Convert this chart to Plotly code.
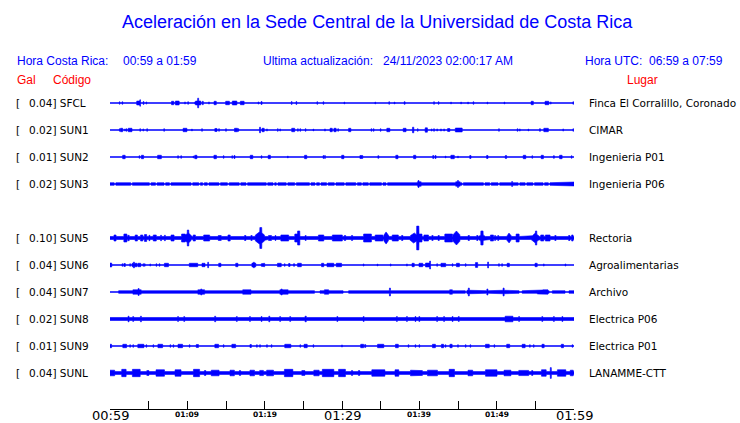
import numpy as np
import plotly.graph_objects as go

# ---------------- data ----------------
title_text = "Aceleración en la Sede Central de la Universidad de Costa Rica"
hora_cr = ["Hora Costa Rica:", "00:59 a 01:59"]
ultima = ["Ultima actualización:", "24/11/2023 02:00:17 AM"]
hora_utc = ["Hora UTC:", "06:59 a 07:59"]

codes = ["SFCL", "SUN1", "SUN2", "SUN3", "SUN5", "SUN6", "SUN7", "SUN8", "SUN9", "SUNL"]
peaks = ["0.04", "0.02", "0.01", "0.02", "0.10", "0.04", "0.04", "0.02", "0.01", "0.04"]
places = ["Finca El Corralillo, Coronado", "CIMAR", "Ingenieria P01", "Ingenieria P06",
          "Rectoria", "Agroalimentarias", "Archivo", "Electrica P06", "Electrica P01", "LANAMME-CTT"]
row_index = [0, 1, 2, 3, 5, 6, 7, 8, 9, 10]

tick_minutes = [0, 5, 10, 15, 20, 25, 30, 35, 40, 45, 50, 55, 60]
major_labels = {0: "00:59", 30: "01:29", 60: "01:59"}
minor_labels = {10: "01:09", 20: "01:19", 40: "01:39", 50: "01:49"}

# background noise half-amplitude (gal) per station
base_noise = [0.0, 0.0, 0.0, 0.012, 0.014, 0.0, 0.012, 0.014, 0.0, 0.013]
# quiet intervals (minutes) where only the baseline is visible
quiet = {"SUN7": [(0.0, 1.1)]}
# narrow quiet notches (minute, width)
gaps = {
    "SUN3": [(m, 0.2) for m in [0.65, 2.8, 5.2, 6.0, 7.1, 7.8, 10.6, 11.6, 12.1, 12.7, 14.2, 15.3,
                               16.8, 17.7, 20.3, 21.2, 21.6, 22.9, 24.0, 25.9, 26.6, 27.2, 28.1,
                               29.1, 30.4, 31.9, 32.6, 33.5, 35.2, 35.8, 45.6, 48.4, 49.2, 50.3,
                               52.9, 53.8, 54.8, 56.1, 56.8]],
    "SUN7": [(26.8, 0.7), (30.5, 0.7), (46.1, 0.3), (53.1, 0.4), (57.0, 0.4), (59.1, 0.5)],
}
# bursts: (minute, half-amplitude in gal, duration in minutes)
SFCL_events = [(1.25,0.012,0.1),(1.6,0.012,0.1),(3.7,0.018,0.5),(3.9,0.03,0.12),(4.35,0.014,0.1),
    (4.7,0.01,0.1),(8.1,0.016,0.3),(8.7,0.018,0.5),(9.7,0.01,0.1),(10.1,0.012,0.1),(11.0,0.01,0.1),
    (11.4,0.018,0.7),(11.4,0.045,0.15),(12.0,0.016,0.15),(12.8,0.01,0.1),(13.6,0.016,0.3),
    (15.2,0.016,0.5),(16.1,0.018,0.6),(17.1,0.016,0.5),(19.2,0.01,0.1),(19.6,0.014,0.15),
    (23.5,0.014,0.1),(24.1,0.014,0.1),(26.8,0.012,0.1),(27.6,0.012,0.1),(30.3,0.009,0.1),
    (34.3,0.009,0.1),(36.1,0.012,0.1),(36.8,0.009,0.1),(38.1,0.012,0.15),(41.9,0.012,0.1),
    (42.5,0.012,0.1),(44.1,0.009,0.1),(45.4,0.009,0.1),(46.3,0.009,0.1),(47.0,0.012,0.1),
    (48.8,0.009,0.1),(51.0,0.009,0.1),(54.6,0.016,0.3),(56.5,0.016,0.5),(57.0,0.01,0.1),
    (59.9,0.012,0.1)]
SUN1_events = [(1.25,0.012,0.1),(1.5,0.016,0.3),(1.95,0.01,0.1),(2.15,0.012,0.1),(2.6,0.016,0.5),
    (3.9,0.012,0.1),(4.3,0.01,0.1),(4.8,0.012,0.1),(7.0,0.012,0.1),(9.7,0.016,0.5),(10.6,0.009,0.1),
    (11.9,0.012,0.1),(13.7,0.014,0.3),(14.1,0.012,0.1),(15.0,0.012,0.1),(16.3,0.016,0.4),
    (16.6,0.012,0.1),(19.4,0.026,0.15),(19.8,0.016,0.3),(20.3,0.01,0.1),(21.7,0.012,0.1),
    (22.0,0.01,0.1),(23.7,0.016,0.4),(24.3,0.012,0.1),(24.6,0.012,0.1),(25.3,0.012,0.1),
    (26.3,0.009,0.1),(27.8,0.01,0.1),(28.6,0.016,0.3),(29.1,0.016,0.3),(29.5,0.012,0.1),
    (31.0,0.016,0.3),(33.8,0.012,0.1),(34.1,0.012,0.1),(35.0,0.012,0.1),(36.0,0.016,0.4),
    (38.1,0.016,0.4),(39.2,0.026,0.2),(39.8,0.012,0.1),(40.9,0.02,0.3),(41.6,0.01,0.1),
    (41.9,0.012,0.1),(42.3,0.01,0.1),(42.8,0.01,0.1),(43.2,0.01,0.1),(43.8,0.014,0.3),
    (45.1,0.018,0.9),(50.3,0.012,0.1),(52.7,0.012,0.1),(53.0,0.01,0.1),(54.1,0.009,0.1),
    (55.6,0.012,0.15),(56.4,0.016,0.6),(58.6,0.01,0.1),(59.9,0.012,0.1)]
SUN2_events = [(1.8,0.016,0.35),(3.8,0.012,0.1),(4.2,0.016,0.3),(6.4,0.016,0.5),(8.8,0.012,0.1),
    (9.2,0.012,0.1),(10.8,0.009,0.1),(11.1,0.016,0.3),(13.6,0.016,0.35),(14.7,0.012,0.1),
    (15.8,0.012,0.1),(16.1,0.014,0.15),(18.3,0.016,0.35),(19.6,0.012,0.1),(20.6,0.016,0.3),
    (23.0,0.009,0.1),(25.3,0.016,0.3),(27.6,0.014,0.1),(27.8,0.014,0.1),(30.1,0.016,0.3),
    (32.5,0.014,0.4),(34.7,0.012,0.15),(37.1,0.016,0.3),(39.4,0.016,0.3),(41.8,0.014,0.15),
    (42.1,0.014,0.15),(43.4,0.009,0.1),(44.3,0.016,0.45),(45.0,0.009,0.1),(46.6,0.014,0.2),
    (48.8,0.014,0.2),(51.2,0.014,0.2),(53.6,0.016,0.35),(54.6,0.012,0.1),(55.9,0.016,0.3),
    (57.4,0.012,0.15),(58.3,0.016,0.35),(59.7,0.012,0.1)]
SUN3_events = [(39.9,0.032,0.15),(40.0,0.02,0.5),(45.0,0.032,0.15),(45.0,0.02,0.6),
    (52.0,0.022,0.15),(59.9,0.018,0.3)]
SUN5_events = [(0.65,0.028,0.3),(2.0,0.037,0.4),(2.4,0.025,0.2),(3.4,0.028,0.3),(4.1,0.028,0.3),
    (4.6,0.032,0.3),(5.1,0.025,0.15),(5.8,0.028,0.4),(6.6,0.025,0.15),(7.1,0.025,0.15),
    (8.1,0.028,0.4),(9.5,0.037,0.5),(10.1,0.05,0.8),(10.1,0.074,0.2),(10.9,0.028,0.3),
    (12.5,0.028,0.8),(14.2,0.023,0.4),(15.4,0.028,0.3),(16.7,0.02,0.2),(17.5,0.023,0.2),
    (18.3,0.023,0.2),(19.4,0.06,1.2),(19.5,0.097,0.25),(19.8,0.046,0.4),(20.7,0.023,0.4),
    (21.4,0.022,0.15),(22.6,0.028,1.0),(24.2,0.037,0.6),(24.4,0.065,0.3),(25.3,0.023,0.15),
    (27.3,0.028,0.7),(29.4,0.028,1.3),(30.4,0.023,0.2),(31.3,0.023,0.2),(33.3,0.037,1.0),
    (34.8,0.028,1.0),(35.7,0.056,0.6),(36.9,0.028,0.8),(37.8,0.023,0.2),(39.3,0.05,0.9),
    (39.8,0.11,0.3),(40.1,0.037,0.5),(40.9,0.028,0.6),(41.7,0.023,0.2),(42.5,0.023,0.2),
    (43.8,0.037,1.0),(44.8,0.065,0.9),(46.4,0.023,0.2),(47.5,0.023,0.2),(48.1,0.065,0.3),
    (48.1,0.04,0.6),(49.4,0.028,0.4),(49.8,0.023,0.15),(50.2,0.023,0.15),(51.6,0.046,0.5),
    (52.7,0.037,0.4),(55.0,0.046,0.8),(55.1,0.065,0.2),(55.9,0.028,0.4),(56.6,0.028,0.6),
    (57.6,0.023,0.2),(59.4,0.023,0.2),(59.8,0.028,0.2)]
SUN6_events = [(0.1,0.018,0.25),(1.6,0.012,0.1),(1.9,0.014,0.2),(2.6,0.012,0.1),(3.1,0.028,0.12),
    (3.1,0.016,0.5),(3.4,0.016,0.2),(3.8,0.016,0.4),(4.3,0.012,0.1),(4.5,0.012,0.1),(5.2,0.01,0.1),
    (6.0,0.012,0.1),(6.4,0.012,0.1),(7.3,0.016,0.55),(10.8,0.016,1.1),(12.1,0.016,0.4),
    (12.7,0.026,0.12),(14.2,0.016,0.3),(16.4,0.016,0.3),(18.6,0.018,0.5),(18.6,0.026,0.12),
    (19.6,0.012,0.1),(19.8,0.016,0.4),(21.9,0.016,0.5),(22.6,0.012,0.1),(23.2,0.014,0.2),
    (23.8,0.012,0.15),(24.5,0.016,0.5),(27.5,0.016,0.3),(28.5,0.016,0.9),(29.6,0.016,0.7),
    (32.8,0.01,0.1),(34.6,0.009,0.1),(36.3,0.01,0.1),(38.4,0.01,0.1),(39.2,0.016,0.3),
    (40.1,0.016,0.3),(40.2,0.016,0.5),(41.1,0.018,0.6),(41.4,0.037,0.12),(42.3,0.012,0.1),
    (43.1,0.016,0.6),(44.3,0.012,0.1),(45.0,0.016,0.4),(46.0,0.012,0.1),(47.4,0.022,0.3),
    (48.9,0.028,0.12),(50.3,0.012,0.1),(50.7,0.012,0.1),(51.5,0.016,0.3),(55.1,0.016,0.3),
    (56.1,0.01,0.1),(58.9,0.01,0.1)]
SUN7_events = [(3.5,0.02,1.1),(3.7,0.032,0.15),(6.0,0.016,1.1),(7.2,0.016,0.6),(9.4,0.016,2.8),
    (11.8,0.02,0.9),(11.8,0.028,0.15),(13.8,0.016,0.4),(14.8,0.016,0.9),(17.7,0.02,1.1),
    (19.0,0.016,0.7),(20.0,0.016,0.9),(22.2,0.028,0.15),(22.5,0.02,1.1),(24.6,0.018,0.9),
    (28.0,0.02,0.6),(33.5,0.016,1.8),(35.2,0.016,0.4),(36.2,0.037,0.15),(37.4,0.016,0.6),
    (39.2,0.016,1.5),(41.0,0.016,0.4),(43.4,0.016,0.6),(44.1,0.02,0.4),(46.4,0.037,0.15),
    (47.0,0.016,1.7),(48.8,0.028,0.15),(50.9,0.037,0.15),(51.5,0.016,1.7),(54.6,0.016,0.5),
    (55.6,0.018,0.7),(56.3,0.02,0.7)]
SUN8_events = [(1.3,0.02,1.4),(2.4,0.026,0.15),(3.0,0.022,0.15),(4.0,0.026,0.15),(8.8,0.022,0.15),
    (9.6,0.022,0.15),(13.6,0.026,0.15),(16.4,0.022,0.15),(18.1,0.022,0.15),(19.6,0.022,0.15),
    (20.6,0.026,0.15),(22.0,0.022,0.15),(23.3,0.022,0.15),(25.3,0.026,0.2),(29.4,0.022,0.15),
    (32.8,0.022,0.15),(37.1,0.022,0.15),(38.4,0.022,0.15),(39.5,0.022,0.15),(40.0,0.022,0.15),
    (42.3,0.022,0.15),(43.2,0.022,0.15),(44.3,0.022,0.15),(45.1,0.022,0.15),(51.6,0.026,1.0),
    (52.9,0.022,0.15),(55.9,0.022,0.15),(57.4,0.022,0.15),(58.5,0.022,0.15)]
SUN9_events = [(0.1,0.016,0.2),(1.9,0.016,0.5),(2.6,0.012,0.1),(3.0,0.012,0.1),(4.0,0.016,0.8),
    (4.7,0.012,0.1),(5.6,0.012,0.1),(6.5,0.016,0.6),(7.8,0.012,0.1),(8.2,0.012,0.1),(9.1,0.016,0.6),
    (10.3,0.012,0.1),(11.3,0.014,0.3),(13.8,0.016,0.5),(14.7,0.012,0.1),(16.0,0.016,0.5),
    (18.2,0.014,0.2),(19.0,0.012,0.1),(19.4,0.012,0.1),(20.3,0.012,0.1),(20.9,0.012,0.1),
    (23.0,0.016,0.8),(24.6,0.012,0.1),(25.3,0.016,0.4),(26.3,0.012,0.1),(30.0,0.01,0.1),
    (32.6,0.016,0.4),(33.0,0.014,0.15),(35.0,0.016,0.8),(37.1,0.016,0.4),(38.6,0.012,0.1),
    (39.5,0.012,0.1),(40.0,0.012,0.1),(41.9,0.016,0.4),(43.0,0.016,0.3),(43.4,0.012,0.1),
    (44.1,0.016,0.3),(45.0,0.012,0.1),(46.0,0.012,0.1),(46.6,0.012,0.1),(48.8,0.016,0.5),
    (49.7,0.012,0.1),(51.5,0.016,0.4),(53.5,0.016,0.4),(54.3,0.012,0.1),(54.8,0.012,0.1),
    (56.0,0.016,0.3),(58.5,0.016,0.3),(59.8,0.012,0.1)]
SUNL_events = [(0.3,0.026,0.6),(1.8,0.034,0.6),(3.4,0.034,1.0),(4.9,0.022,0.3),(6.5,0.03,1.1),
    (8.8,0.03,0.8),(11.2,0.034,0.8),(12.3,0.022,0.2),(13.6,0.026,1.0),(15.8,0.026,0.6),
    (16.8,0.022,0.2),(18.4,0.026,0.6),(19.6,0.024,0.5),(20.7,0.026,0.9),(23.1,0.034,1.1),
    (25.0,0.022,0.4),(26.7,0.026,0.7),(28.2,0.034,1.5),(30.0,0.034,0.9),(31.3,0.022,0.2),
    (32.2,0.022,0.2),(34.7,0.03,1.7),(37.1,0.03,0.5),(39.5,0.026,1.3),(40.2,0.022,0.4),
    (41.7,0.026,1.3),(44.2,0.034,0.7),(46.6,0.026,0.6),(49.3,0.03,1.5),(51.4,0.026,0.9),
    (53.5,0.024,1.3),(54.6,0.022,0.2),(56.1,0.03,0.6),(57.0,0.05,0.15),(58.4,0.03,1.1),
    (59.7,0.026,0.4)]
events = {"SFCL": SFCL_events, "SUN1": SUN1_events, "SUN2": SUN2_events, "SUN3": SUN3_events,
          "SUN5": SUN5_events, "SUN6": SUN6_events, "SUN7": SUN7_events, "SUN8": SUN8_events,
          "SUN9": SUN9_events, "SUNL": SUNL_events}

# ---------------- layout constants ----------------
W, H = 740, 423
L, R, T, B = 110, 574, 90, 409
PX_PER_GAL = 108.0
ROW_STEP = 27 / PX_PER_GAL
BLUE = "#0000ff"
y_top = 13 / PX_PER_GAL
y_bot = -10 * ROW_STEP - 36 / PX_PER_GAL

def px_x(px):
    return (px - L) / (R - L)

def px_y(py):
    return (B - py) / (B - T)

t = np.arange(0, 60.00001, 0.02)

def envelope(code, base):
    env = np.full_like(t, base)
    for a, b in quiet.get(code, []):
        env[(t >= a) & (t <= b)] = 0
    for m, w in gaps.get(code, []):
        env[np.abs(t - m) <= w / 2] = 0
    for m, a, w in events[code]:
        half = max(w, 0.1) / 2
        d = np.abs(t - m)
        mask = d <= half
        if a >= 0.04 and w >= 0.4:
            prof = a * (1 - 0.55 * d[mask] / half)
        else:
            prof = np.full(mask.sum(), a)
        env[mask] = np.maximum(env[mask], prof)
    return env

fig = go.Figure()
for code, base, r in zip(codes, base_noise, row_index):
    y0 = -r * ROW_STEP
    env = envelope(code, base)
    xs = np.concatenate([t, t[::-1]])
    ys = np.concatenate([y0 + env, (y0 - env)[::-1]])
    fig.add_trace(go.Scatter(x=xs, y=ys, mode="lines", fill="toself", fillcolor=BLUE,
                             line=dict(color=BLUE, width=0.6), hoverinfo="skip", showlegend=False))
    fig.add_trace(go.Scatter(x=[0, 60], y=[y0, y0], mode="lines",
                             line=dict(color=BLUE, width=1), hoverinfo="skip", showlegend=False))

ann = []
def add_text(txt, px, py, anchor="left", size=12, color=BLUE, family="Liberation Sans, Arial, sans-serif"):
    ann.append(dict(text=txt, x=px_x(px), y=px_y(py), xref="paper", yref="paper",
                    xanchor=anchor, yanchor="middle", showarrow=False,
                    font=dict(family=family, size=size, color=color)))

add_text(title_text, 377, 22, anchor="center", size=18)
add_text(hora_cr[0], 15, 61)
add_text(hora_cr[1], 121, 61)
add_text(ultima[0], 261, 61)
add_text(ultima[1], 381, 61)
add_text(hora_utc[0], 583, 61)
add_text(hora_utc[1], 725, 61, anchor="right")
add_text("Gal", 15, 80, color="red")
add_text("Código", 51, 80, color="red")
add_text("Lugar", 625, 80, color="red")

lab_font = dict(family="DejaVu Sans, sans-serif", size=10.5, color="black")
for code, pk, place, r in zip(codes, peaks, places, row_index):
    y0 = -r * ROW_STEP
    ann.append(dict(text="[", x=px_x(14), y=y0, xref="paper", yref="y", xanchor="left",
                    yanchor="middle", showarrow=False, font=lab_font))
    ann.append(dict(text=f"{pk}] {code}", x=px_x(27), y=y0, xref="paper", yref="y", xanchor="left",
                    yanchor="middle", showarrow=False, font=lab_font))
    ann.append(dict(text=place, x=px_x(587), y=y0, xref="paper", yref="y", xanchor="left",
                    yanchor="middle", showarrow=False, font=lab_font))

for m, txt in major_labels.items():
    ann.append(dict(text=txt, x=m, y=px_y(415), xref="x", yref="paper", xanchor="center",
                    yanchor="middle", showarrow=False,
                    font=dict(family="DejaVu Sans, sans-serif", size=13, color="black")))
for m, txt in minor_labels.items():
    ann.append(dict(text=f"<b>{txt}</b>", x=m, y=px_y(414), xref="x", yref="paper", xanchor="center",
                    yanchor="middle", showarrow=False,
                    font=dict(family="DejaVu Sans, sans-serif", size=7.5, color="black")))

fig.update_layout(
    width=W, height=H, margin=dict(l=L, r=W - R, t=T, b=H - B),
    paper_bgcolor="white", plot_bgcolor="white", annotations=ann, showlegend=False,
    xaxis=dict(range=[0, 60], showline=True, linecolor="black", linewidth=1, ticks="inside",
               ticklen=8, tickcolor="black", tickwidth=1, tickvals=tick_minutes,
               showticklabels=False, showgrid=False, zeroline=False, fixedrange=True),
    yaxis=dict(range=[y_bot, y_top], visible=False, fixedrange=True),
)
fig.write_html("out.html", config={"displayModeBar": False},
               post_script="document.body.style.margin='0';document.body.style.overflow='hidden';")
